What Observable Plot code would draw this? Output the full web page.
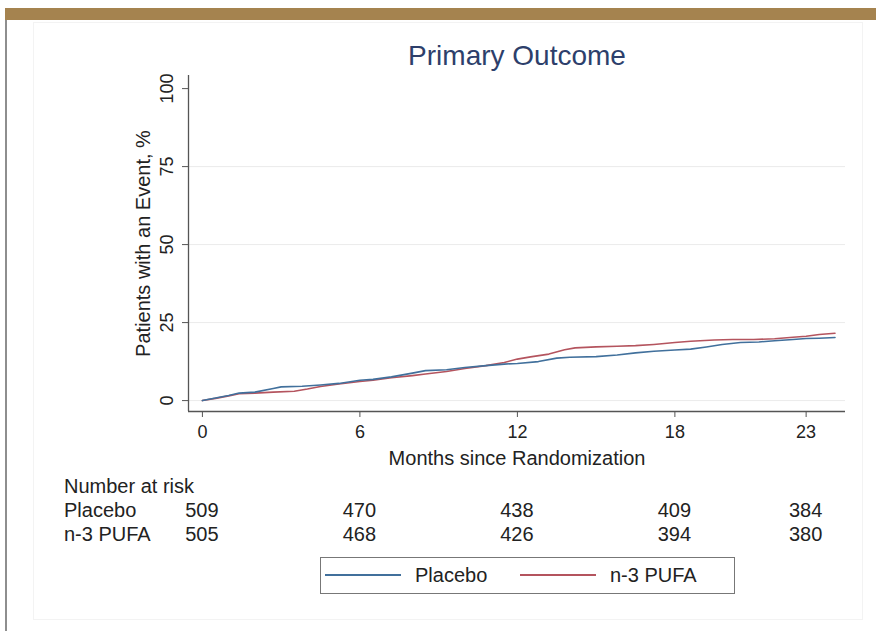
<!DOCTYPE html>
<html>
<head>
<meta charset="utf-8">
<script src="https://cdn.jsdelivr.net/npm/d3@7"></script>
<script src="https://cdn.jsdelivr.net/npm/@observablehq/plot@0.6"></script>
<style>
  html, body { margin: 0; padding: 0; background: #fff; }
  #wrap { position: relative; width: 876px; height: 631px; overflow: hidden; background: #fff;
          font-family: "Liberation Sans", Arial, sans-serif; color: #222; }
  .abs { position: absolute; white-space: nowrap; }
</style>
</head>
<body>
<div id="wrap"></div>
<script>
// ---- data ----
const xTicks = [0, 6, 12, 18, 23];
const yTicks = [0, 25, 50, 75, 100];
const gridY = [0, 25, 50, 75];

const placeboMonth = [0, 0.5, 1.0, 1.4, 2.0, 2.7, 3.0, 3.8, 4.5, 5.2, 6.0, 6.5, 7.2, 8.0, 8.5, 9.3, 10.0, 10.8, 11.5, 12.0, 12.8, 13.5, 14.0, 15.0, 15.8, 16.5, 17.2, 18.0, 18.6, 19.2, 19.8, 20.5, 21.2, 21.8, 22.5, 23.0, 23.5, 24.1];
const placeboPct   = [0, 0.8, 1.6, 2.4, 2.7, 3.9, 4.4, 4.6, 5.0, 5.5, 6.5, 6.8, 7.6, 8.8, 9.6, 9.9, 10.6, 11.2, 11.7, 11.9, 12.5, 13.6, 13.9, 14.1, 14.6, 15.3, 15.8, 16.2, 16.5, 17.2, 18.0, 18.6, 18.8, 19.2, 19.6, 19.9, 20.0, 20.2];

const pufaMonth = [0, 0.5, 1.0, 1.4, 2.0, 2.7, 3.5, 4.0, 4.5, 5.2, 6.0, 6.5, 7.2, 8.0, 8.5, 9.3, 10.0, 10.8, 11.5, 12.0, 12.5, 13.2, 13.8, 14.2, 15.0, 15.8, 16.5, 17.2, 18.0, 18.6, 19.5, 20.2, 21.0, 21.8, 22.5, 23.0, 23.5, 24.1];
const pufaPct   = [0, 0.7, 1.5, 2.2, 2.4, 2.7, 3.0, 3.7, 4.5, 5.3, 6.1, 6.5, 7.3, 8.0, 8.5, 9.3, 10.3, 11.2, 12.2, 13.3, 14.0, 14.9, 16.3, 16.9, 17.2, 17.4, 17.6, 18.0, 18.6, 19.0, 19.4, 19.6, 19.6, 19.8, 20.3, 20.6, 21.2, 21.6];

const riskMonths = [0, 6, 12, 18, 23];
const placeboRisk = [509, 470, 438, 409, 384];
const pufaRisk = [505, 468, 426, 394, 380];

const seriesNames = ["Placebo", "n-3 PUFA"];
const seriesColors = ["#41709c", "#b4545e"];

// ---- build tables ----
const placebo = placeboMonth.map((m, i) => ({month: m, pct: placeboPct[i]}));
const pufa = pufaMonth.map((m, i) => ({month: m, pct: pufaPct[i]}));

const xDomain = [-0.53, 24.5];
const yDomain = [-3.5, 104.2];

const plot = Plot.plot({
  width: 876,
  height: 480,
  marginTop: 75,
  marginBottom: 69,
  marginLeft: 188,
  marginRight: 31,
  style: {fontFamily: "'Liberation Sans', Arial, sans-serif", color: "#222", background: "transparent", overflow: "visible"},
  x: {domain: xDomain},
  y: {domain: yDomain},
  marks: [
    Plot.ruleY(gridY, {stroke: "#ebebeb", strokeWidth: 1}),
    Plot.ruleX([xDomain[0]], {stroke: "#555", strokeWidth: 1.3}),
    Plot.ruleY([yDomain[0]], {stroke: "#555", strokeWidth: 1.3}),
    Plot.axisX({ticks: xTicks, tickSize: 6, tickPadding: 8, fontSize: 18, label: null, stroke: "#555"}),
    Plot.axisY({ticks: yTicks, tickSize: 6, tickFormat: () => "", label: null, stroke: "#555"}),
    Plot.text(yTicks, {y: d => d, text: d => String(d), frameAnchor: "left", dx: -16, rotate: -90,
      textAnchor: "middle", lineAnchor: "bottom", fontSize: 18, fill: "#222"}),
    Plot.text(["Patients with an Event, %"], {frameAnchor: "left", dx: -45, rotate: -90,
      textAnchor: "middle", fontSize: 20, fill: "#222"}),
    Plot.text(["Months since Randomization"], {frameAnchor: "bottom", dy: 53, fontSize: 20, fill: "#222"}),
    Plot.line(pufa, {x: "month", y: "pct", stroke: seriesColors[1], strokeWidth: 1.6}),
    Plot.line(placebo, {x: "month", y: "pct", stroke: seriesColors[0], strokeWidth: 1.6})
  ]
});

const wrap = document.getElementById("wrap");

// decorative frame
function box(css) { const d = document.createElement("div"); d.className = "abs"; Object.assign(d.style, css); wrap.appendChild(d); return d; }
box({left: "5px", top: "8px", width: "871px", height: "12px", background: "#a5834f"});
box({left: "5px", top: "20px", width: "2px", height: "611px", background: "#8e8e8e"});
box({left: "33px", top: "22px", width: "828px", height: "596px", border: "1px solid #f3f3f3"});

plot.style.position = "absolute";
plot.style.left = "0px";
plot.style.top = "0px";
wrap.appendChild(plot);

function txt(s, css) { const d = document.createElement("div"); d.className = "abs"; d.textContent = s; Object.assign(d.style, css); wrap.appendChild(d); return d; }

// title
txt("Primary Outcome", {left: "517px", top: "40px", transform: "translateX(-50%)", fontSize: "28px", color: "#2d3f6b", lineHeight: "32px"});

// risk table
const xs = plot.scale("x");
const fs = "20px";
txt("Number at risk", {left: "64px", top: "474px", fontSize: fs, lineHeight: "24px"});
txt(seriesNames[0], {left: "64px", top: "498px", fontSize: fs, lineHeight: "24px"});
txt(seriesNames[1], {left: "64px", top: "522px", fontSize: fs, lineHeight: "24px"});
riskMonths.forEach((m, i) => {
  const x = xs.apply(m);
  txt(String(placeboRisk[i]), {left: x + "px", top: "498px", transform: "translateX(-50%)", fontSize: fs, lineHeight: "24px"});
  txt(String(pufaRisk[i]), {left: x + "px", top: "522px", transform: "translateX(-50%)", fontSize: fs, lineHeight: "24px"});
});

// legend
box({left: "320px", top: "557px", width: "413px", height: "35px", border: "1.5px solid #777", background: "#fff"});
function legItem(x, name, color) {
  box({left: x + "px", top: "574px", width: "76px", height: "2px", background: color});
  txt(name, {left: (x + 90) + "px", top: "563px", fontSize: fs, lineHeight: "24px"});
}
legItem(325, seriesNames[0], seriesColors[0]);
legItem(520, seriesNames[1], seriesColors[1]);
</script>
</body>
</html>
